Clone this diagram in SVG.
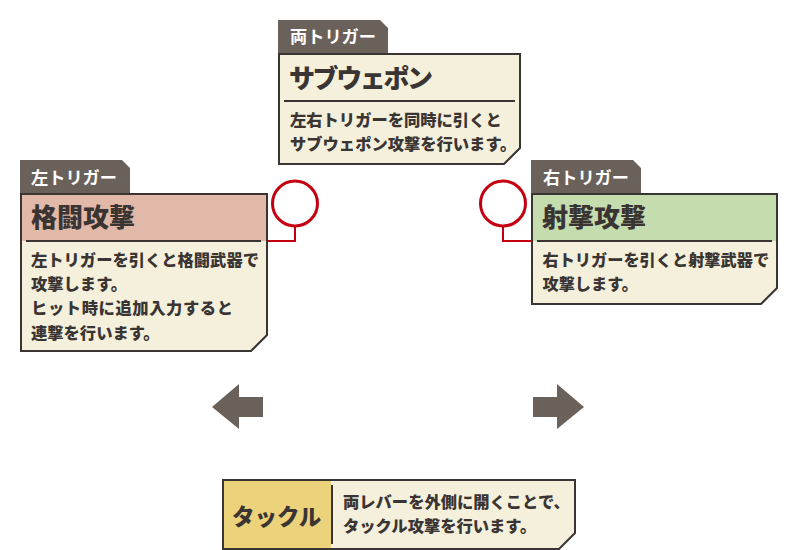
<svg xmlns="http://www.w3.org/2000/svg" width="798" height="550" viewBox="0 0 798 550">
<style>
text{font-family:"Noto Sans CJK JP","Noto Sans CJK SC",sans-serif;font-weight:900;fill:#3a3533}
.tab{fill:#6b615b}
.tabt{font-size:17.200px;fill:#fff;font-weight:700}
.box{fill:#f4f0dc}
.edge{fill:none;stroke:#3a3533;stroke-width:2}
.div{stroke:#3a3533;stroke-width:2}
.title{font-size:26px}
.body{font-size:16.300px}
.lead{fill:none;stroke:#c40010;stroke-width:2}
.ring{fill:#fff;stroke:#c40010;stroke-width:3}
.arrow{fill:#6b615b}
</style>
<g id="connectors">
<path class="lead" d="M295 225V241H268"/>
<path class="lead" d="M503 225V241H531"/>
<circle class="ring" cx="295" cy="203.500" r="22.500"/>
<circle class="ring" cx="503" cy="203.500" r="22.500"/>
</g>
<g id="node-both">
<path class="tab" d="M278 20H380L388 28V54H278Z"/>
<text class="tabt" x="290" y="43">両トリガー</text>
<path class="box" d="M279 54H520V148L504 164H279Z"/>
<path class="edge" d="M279 54H520V148L504 164H279Z"/>
<path class="div" d="M284 101H515"/>
<text class="title" x="289" y="88" textLength="144">サブウェポン</text>
<text class="body" x="290" y="126">左右トリガーを同時に引くと</text>
<text class="body" x="290" y="150">サブウェポン攻撃を行います。</text>
</g>
<g id="node-left">
<path class="tab" d="M20 160H122L130 168V194H20Z"/>
<text class="tabt" x="31" y="184">左トリガー</text>
<path class="box" d="M21 194H267V335L251 351H21Z"/>
<rect x="21" y="194" width="246" height="47" fill="#e2b8a8"/>
<path class="edge" d="M21 194H267V335L251 351H21Z"/>
<path class="div" d="M26 241H261"/>
<text class="title" x="31" y="227">格闘攻撃</text>
<text class="body" x="31" y="266">左トリガーを引くと格闘武器で</text>
<text class="body" x="31" y="290">攻撃します。</text>
<text class="body" x="31" y="314" textLength="202">ヒット時に追加入力すると</text>
<text class="body" x="31" y="339">連撃を行います。</text>
</g>
<g id="node-right">
<path class="tab" d="M531 160H633L641 168V194H531Z"/>
<text class="tabt" x="543" y="184">右トリガー</text>
<path class="box" d="M532 194H777V288L761 304H532Z"/>
<rect x="532" y="194" width="245" height="47" fill="#c4dcae"/>
<path class="edge" d="M532 194H777V288L761 304H532Z"/>
<path class="div" d="M537 241H772"/>
<text class="title" x="542" y="227">射撃攻撃</text>
<text class="body" x="542.500" y="266" style="font-size:16.200px">右トリガーを引くと射撃武器で</text>
<text class="body" x="542.500" y="290" style="font-size:16.200px">攻撃します。</text>
</g>
<g id="arrow-left"><path class="arrow" d="M212 407L239 384V397H263V417H239V429Z"/></g>
<g id="arrow-right"><path class="arrow" d="M584 407L557 384V397H533V417H557V429Z"/></g>
<g id="node-tackle">
<path class="box" d="M223 480H575V533L559 549H223Z"/>
<rect x="223" y="480" width="108" height="69" fill="#edd27c"/>
<path class="edge" d="M223 480H575V533L559 549H223Z"/>
<path class="div" d="M332 485V544"/>
<text x="232" y="525" style="font-size:22.500px">タックル</text>
<text class="body" x="343" y="508">両レバーを外側に開くことで、</text>
<text class="body" x="343" y="532">タックル攻撃を行います。</text>
</g>
</svg>
